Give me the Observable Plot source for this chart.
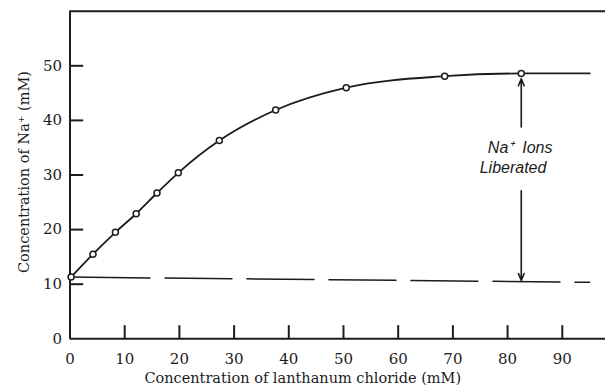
<!DOCTYPE html>
<html>
<head>
<meta charset="utf-8">
<script src="https://cdn.jsdelivr.net/npm/d3@7"></script>
<script src="https://cdn.jsdelivr.net/npm/@observablehq/plot@0.6"></script>
<style>
  html, body { margin: 0; padding: 0; background: #fff; }
  #chart svg { display: block; }
</style>
</head>
<body>
<div id="chart"></div>
<script>
// Measured points: lanthanum chloride (mM) vs Na+ (mM)
const laConc = [0.2, 4.2, 8.3, 12.1, 15.9, 19.8, 27.3, 37.6, 50.5, 68.5, 82.5];
const naConc = [11.3, 15.5, 19.5, 22.9, 26.7, 30.4, 36.3, 41.9, 46.0, 48.1, 48.6];

// Smooth curve continues flat beyond the last point
const curveEndX = [95];
const curveEndY = [48.6];

// Dashed baseline (initial Na+ level)
const baseX = [0, 95];
const baseY = [11.3, 10.35];

// "Na+ Ions Liberated" arrows
const arrowX = [82.5, 82.5];
const arrowFrom = [38.8, 27.1];
const arrowTo = [47.6, 10.7];

const annotLines = ["Na\u207A\u00A0\u00A0Ions", "Liberated"];
const annotX = [82.3, 81.0];
const annotY = [35.0, 31.3];

// Axis ticks
const xTickLabels = [0, 10, 20, 30, 40, 50, 60, 70, 80, 90];
const xTickMarks = [10, 20, 30, 40, 50, 60, 70, 80, 90];
const yTickLabels = [0, 10, 20, 30, 40, 50];
const yTickMarks = [10, 20, 30, 40, 50];

const xTitle = "Concentration of lanthanum chloride (mM)";
const yTitle = "Concentration of Na\u207A (mM)";

const points = laConc.map((x, i) => ({x, y: naConc[i]}));
const curve = points.concat(curveEndX.map((x, i) => ({x, y: curveEndY[i]})));
const base = baseX.map((x, i) => ({x, y: baseY[i]}));
const arrows = arrowX.map((x, i) => ({x, y1: arrowFrom[i], y2: arrowTo[i]}));
const annot = annotLines.map((t, i) => ({t, x: annotX[i], y: annotY[i]}));

const ink = "#1c1c1c";
const serif = "DejaVu Serif";

const chart = Plot.plot({
  width: 605,
  height: 386,
  marginLeft: 69.5,
  marginRight: 0,
  marginTop: 10.7,
  marginBottom: 47.7,
  x: {domain: [0, 97.9]},
  y: {domain: [0, 60]},
  style: {fontFamily: serif, fontSize: "15px", background: "#fff", color: ink},
  marks: [
    Plot.axisX({ticks: xTickLabels, tickSize: 0, tickPadding: 15, label: null, fontSize: 15, fontFamily: serif}),
    Plot.axisY({ticks: yTickLabels, tickSize: 0, tickPadding: 8, label: null, fontSize: 15, fontFamily: serif}),
    Plot.text([xTitle], {frameAnchor: "bottom", text: d => d, dy: 40, dx: -35, lineAnchor: "middle",
      fontSize: 14.5, fontFamily: serif, fill: ink}),
    Plot.text([yTitle], {frameAnchor: "left", text: d => d, rotate: -90, dx: -46, dy: -3,
      textAnchor: "middle", lineAnchor: "middle", fontSize: 14.5, fontFamily: serif, fill: ink}),
    Plot.line(base, {x: "x", y: "y", stroke: ink, strokeWidth: 1.5,
      strokeDasharray: "80,15,67,15,67,15,67,15,67,15,67,15,67,15"}),
    Plot.line(curve, {x: "x", y: "y", curve: "monotone-x", stroke: ink, strokeWidth: 1.8}),
    Plot.arrow(arrows, {x: "x", y1: "y1", y2: "y2", stroke: ink, strokeWidth: 1.6, headLength: 7, headAngle: 45}),
    Plot.text(annot, {x: "x", y: "y", text: "t", fontFamily: "Liberation Sans",
      fontStyle: "italic", fontSize: 16, fill: ink}),
    Plot.ruleX(xTickMarks, {y1: 0, y2: 2.4, stroke: ink, strokeWidth: 2}),
    Plot.ruleY(yTickMarks, {x1: 0, x2: 2.5, stroke: ink, strokeWidth: 2}),
    Plot.ruleX([0], {stroke: ink, strokeWidth: 2}),
    Plot.ruleY([0, 60], {stroke: ink, strokeWidth: 2}),
    Plot.dot(points, {x: "x", y: "y", r: 3, fill: "#fff", stroke: ink, strokeWidth: 1.5})
  ]
});
document.getElementById("chart").appendChild(chart);
</script>
</body>
</html>
